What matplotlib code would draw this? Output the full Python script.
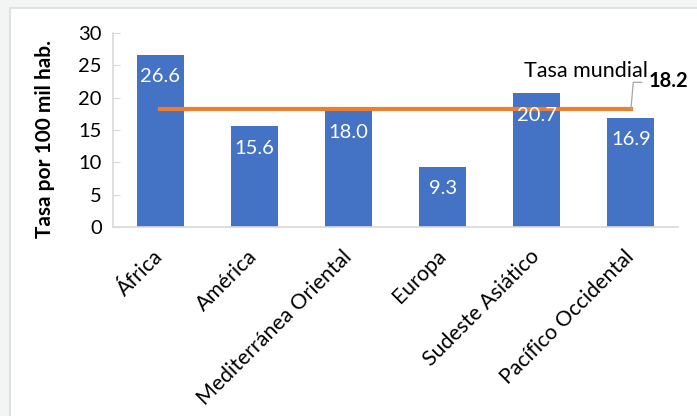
import matplotlib
matplotlib.use("Agg")
import matplotlib.pyplot as plt
from matplotlib.patches import Rectangle

plt.rcParams['font.family'] = ['Lato', 'DejaVu Sans']

categories = ["África", "América", "Mediterránea Oriental", "Europa", "Sudeste Asiático", "Pacífico Occidental"]
values = [26.6, 15.6, 18.0, 9.3, 20.7, 16.9]
world_rate = 18.2
world_label = "Tasa mundial"
ylabel = "Tasa por 100 mil hab."
yticks = [0, 5, 10, 15, 20, 25, 30]

W, H = 697, 416
FS = 14.5
fig = plt.figure(figsize=(W / 100, H / 100), dpi=100)
fig.patch.set_facecolor("#f3f4f4")
# white panel with light border
fig.patches.append(Rectangle((10 / W, -0.1), 1.1, 1 - 8 / H + 0.1, transform=fig.transFigure,
                             facecolor="white", edgecolor="#dcdcdc", linewidth=1.2, zorder=-10))

ax = fig.add_axes([113 / W, 1 - 227 / H, (678 - 113) / W, (227 - 33) / H])
ax.set_facecolor("white")
x = list(range(len(categories)))
bar_color = "#4472C4"
ax.bar(x, values, width=0.5, color=bar_color, zorder=2)
ax.set_xlim(-0.5, len(categories) - 0.5)
ax.set_ylim(0, 30)
ax.set_yticks(yticks)
ax.set_yticklabels([str(t) for t in yticks], fontsize=FS)
ax.tick_params(axis='y', direction='in', length=5, color="#d9d9d9", pad=8)
ax.tick_params(axis='x', length=0, pad=19)
ax.set_xticks(x)
ax.set_xticklabels(categories, rotation=45, ha='right', va='center', rotation_mode='anchor', fontsize=15.3)
for s in ['top', 'right']:
    ax.spines[s].set_visible(False)
for s in ['left', 'bottom']:
    ax.spines[s].set_color("#d9d9d9")
    ax.spines[s].set_linewidth(1.2)

for xi, v in zip(x, values):
    ax.annotate(f"{v:.1f}", (xi, v), xytext=(0, -22), textcoords='offset pixels',
                ha='center', va='center', color='white', fontsize=FS, zorder=4)

ax.plot([x[0], x[-1]], [world_rate, world_rate], color="#ED7D31", linewidth=3, zorder=3)

# leader line and label
ax.annotate("", xy=(x[-1], world_rate), xytext=(11, 27), textcoords='offset pixels',
            arrowprops=dict(arrowstyle='-', color='#a6a6a6', lw=0.9,
                            connectionstyle='angle,angleA=0,angleB=85,rad=0',
                            shrinkA=0, shrinkB=0))
ax.annotate(world_label, (x[-1], world_rate), xytext=(17, 38), textcoords='offset pixels',
            ha='right', va='center', fontsize=15.5, color='black')
ax.annotate(f"{world_rate:.1f}", (x[-1], world_rate), xytext=(18, 28), textcoords='offset pixels',
            ha='left', va='center', fontsize=FS, fontweight='bold', color='black')

fig.text(45 / W, 1 - 139 / H, ylabel, rotation=90, ha='center', va='center',
         fontsize=15, fontweight='bold')

fig.savefig("out.png", dpi=100, facecolor=fig.get_facecolor())
